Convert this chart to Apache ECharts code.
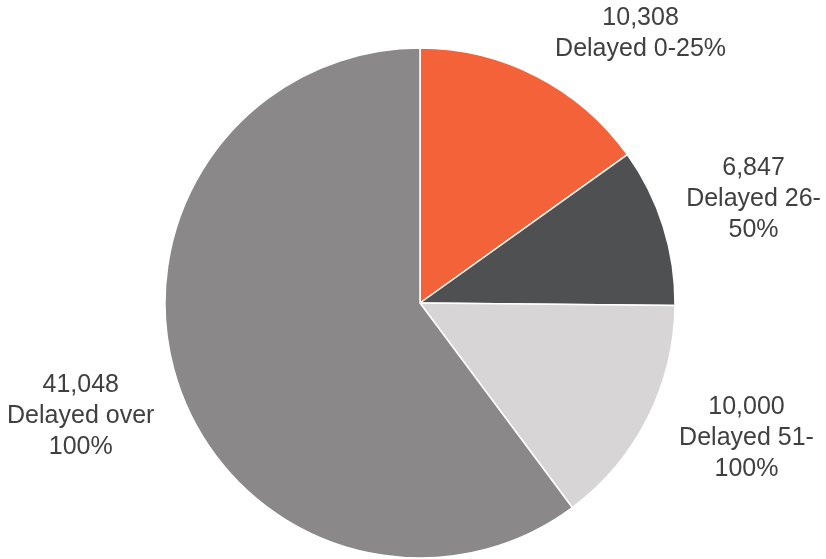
<!DOCTYPE html>
<html>
<head>
<meta charset="utf-8">
<script src="https://cdn.jsdelivr.net/npm/echarts@6/dist/echarts.min.js"></script>
<style>
html,body{margin:0;padding:0;background:#fff;}
#chart{width:826px;height:559px;}
</style>
</head>
<body>
<div id="chart"></div>
<script>
var categories = ['Delayed 0-25%', 'Delayed 26-\n50%', 'Delayed 51-\n100%', 'Delayed over\n100%'];
var values = [10308, 6847, 10000, 41048];
var colors = ['#F4623A', '#4F5052', '#D7D5D6', '#8A8889'];
// label nudges (style only), per slice: [dx, dy]
var labelNudges = [[-2, -11], [-33, -17], [-22, 4], [26, 22]];

var chart = echarts.init(document.getElementById('chart'), null, {renderer: 'canvas'});

function fmt(n) { return n.toLocaleString('en-US'); }

var data = categories.map(function (c, i) {
  return { name: c, value: values[i], itemStyle: { color: colors[i] } };
});

chart.setOption({
  animation: false,
  backgroundColor: '#ffffff',
  series: [{
    type: 'pie',
    center: [420, 303],
    radius: [0, 255],
    startAngle: 90,
    clockwise: true,
    avoidLabelOverlap: false,
    data: data,
    itemStyle: { borderColor: '#ffffff', borderWidth: 1.5 },
    label: {
      show: true,
      position: 'outside',
      bleedMargin: 0,
      distanceToLabelLine: 0,
      width: 180,
      overflow: 'none',
      formatter: function (p) {
        var lines = [fmt(p.value)].concat(p.name.split('\n'));
        return lines.map(function (l) { return '{c|' + l + '}'; }).join('\n');
      },
      rich: {
        c: {
          fontFamily: 'Liberation Sans, Arial, sans-serif',
          fontSize: 25,
          lineHeight: 31,
          color: '#404040',
          align: 'center'
        }
      }
    },
    labelLine: { show: false, length: 35, length2: 0 },
    labelLayout: function (params) {
      var n = labelNudges[params.dataIndex] || [0, 0];
      return { dx: n[0], dy: n[1] };
    },
    emphasis: { disabled: true }
  }]
});
</script>
</body>
</html>
